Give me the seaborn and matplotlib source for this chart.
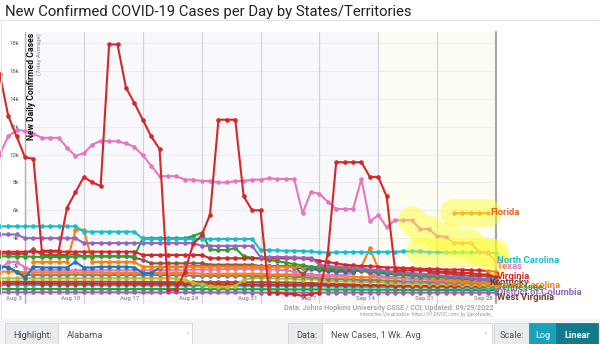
import numpy as np
import pandas as pd
import matplotlib
matplotlib.use("Agg")
import matplotlib.pyplot as plt
import seaborn as sns
from matplotlib.patches import Rectangle

nan = np.nan
# daily 7-day average new cases (thousands), Jul 31 .. Sep 28 2022 (60 days)
dates = pd.date_range("2022-07-31", periods=60, freq="D")

california = [15.8, 12.8, 11.3, 9.8, 9.7, 3.1, 3.1, 3.1, 6.2, 7.3,
              8.4, 8.0, 7.75, 17.9, 17.9, 14.8, 13.7, 12.5, 11.3, 10.4,
              0.3, 0.3, 1.6, 3.6, 4.2, 5.7, 12.5, 12.5, 12.5, 7.0,
              6.0, 6.0, 0.1, 0.1, 0.0, 0.0, -0.15, 0.0, 0.1, 2.9,
              9.45, 9.45, 9.45, 9.45, 8.4, 8.4, 7.0, 1.7, 1.7, 1.7,
              1.7, 1.65, 1.6, 1.6, 1.55, 1.5, 1.5, 1.4, 1.4, 1.3]
texas = [10.0, 11.3, 11.75, 11.7, 11.5, 11.2, 11.2, 11.2, 10.5, 9.9,
         10.1, 10.7, 11.0, 10.95, 10.95, 10.8, 10.55, 9.95, 9.2, 8.45,
         8.45, 8.45, 8.2, 8.2, 8.1, 8.1, 8.0, 8.0, 8.1, 8.1,
         8.2, 8.2, 8.3, 8.25, 8.25, 8.25, 5.8, 7.3, 7.2, 6.6,
         6.1, 6.1, 6.1, 8.25, 5.2, 5.65, 4.8, 5.3, 5.3, 5.3,
         4.65, 4.65, 4.15, 4.1, 3.65, 3.65, 3.65, 3.0, 3.0, 2.3]
north_carolina = [4.85, 4.85, 4.85, 4.85, 4.85, 4.85, 4.85, 4.85, 4.85, 4.85,
                  4.47, 4.47, 4.47, 4.47, 4.47, 4.47, 4.47, 3.95, 3.95, 3.95,
                  3.95, 3.95, 3.95, 3.95, 3.95, 3.95, 3.95, 3.95, 3.95, 3.95,
                  3.95, 3.15, 3.15, 3.12, 3.1, 3.1, 3.08, 3.05, 2.98, 2.98,
                  2.98, 3.0, 3.0, 3.0, 3.0, 3.02, 3.02, 3.02, 3.05, 3.05,
                  3.05, 3.0, 3.0, 2.98, 2.98, 2.98, 2.98, 2.98, 2.96, 2.95]
florida = [nan] * 54 + [5.83, 5.83, 5.83, 5.83, 5.83, nan]
georgia = [4.27, 4.27, 4.27, 4.0, 4.0, 4.0, 4.0, 4.0, 4.0, 4.0,
           3.65, 3.65, 3.65, 3.65, 3.65, 3.65, 3.65, 3.65, 3.65, 3.65,
           3.65, 3.65, 3.65, 3.65, 3.45, 3.45, 3.45, 3.45, 3.45, 3.45,
           3.45, 2.65, 2.65, 2.65, 2.65, 2.62, 2.6, 2.6, 2.1, 2.0,
           1.95, 1.9, 1.85, 1.8, 1.75, 1.7, 1.65, 1.6, 1.55, 1.5,
           1.45, 1.4, 1.35, 1.3, 1.25, 1.2, 1.15, 1.1, 1.05, 1.0]
virginia = [3.03, 3.03, 3.03, 3.03, 3.03, 3.03, 3.03, 3.03, 3.03, 3.03,
            3.03, 3.03, 3.03, 3.03, 3.03, 3.03, 3.03, 2.8, 2.8, 2.8,
            2.8, 2.8, 2.8, 2.8, 2.8, 2.56, 2.56, 2.56, 2.56, 2.56,
            2.56, 2.56, 2.56, 2.56, 2.56, 2.56, 2.56, 2.5, 2.4, 2.3,
            2.2, 2.1, 2.05, 2.0, 2.0, 1.95, 1.9, 1.9, 1.85, 1.85,
            1.8, 1.8, 1.8, 1.75, 1.75, 1.75, 1.7, 1.7, 1.65, 1.6]
alabama = [2.7, 2.7, 2.68, 2.68, 2.68, 2.65, 2.65, 2.65, 2.65, 2.68,
           2.68, 2.68, 2.7, 2.7, 2.7, 2.7, 2.7, 4.0, 4.0, 4.0,
           4.0, 4.0, 4.0, 4.15, 4.4, 3.2, 3.15, 3.15, 3.3, 2.7,
           2.6, 2.55, 2.45, 2.35, 2.25, 2.15, 2.05, 1.95, 1.9, 1.85,
           1.8, 1.8, 1.75, 1.7, 1.65, 1.6, 1.5, 1.45, 1.4, 1.35,
           1.3, 1.3, 1.25, 1.2, 1.2, 1.15, 1.1, 1.1, 1.05, 1.0]
south_carolina = [nan, nan, nan, nan, 2.3, 2.3, 2.3, 2.3, 2.3, 4.6,
                  4.6, 2.3, 2.3, 2.3, 2.3, 2.3, 2.3, 1.96, 1.96, 1.96,
                  1.96, 1.96, 1.96, 1.96, 1.96, 1.96, 1.96, 1.96, 1.96, 1.96,
                  1.96, 1.96, 1.96, 1.95, 1.95, 1.95, 1.95, 1.95, 1.95, 1.95,
                  1.95, 1.95, 1.95, 1.95, 3.3, 1.8, 1.6, 1.5, 1.4, 1.35,
                  1.3, 1.2, 1.1, 1.05, 1.0, 0.95, 0.9, 0.85, 0.8, 0.75]
kentucky = [2.9, 2.9, 2.85, 2.9, 3.2, 2.8, 2.8, 2.8, 2.8, 2.85,
            2.7, 2.75, 2.7, 2.7, 2.7, 2.7, 2.6, 2.45, 2.2, 2.2,
            2.2, 2.2, 2.2, 2.2, 2.2, 2.1, 2.1, 2.1, 2.1, 2.1,
            2.1, 2.0, 2.0, 2.0, 2.0, 2.0, 1.4, 1.95, 1.8, 1.75,
            1.7, 1.7, 1.65, 1.65, 1.6, 1.55, 1.5, 1.5, 1.45, 1.4,
            1.4, 1.45, 1.55, 1.5, 1.4, 1.35, 1.3, 1.3, 1.25, 1.2]
pennsylvania = [1.96, 1.9, 1.6, 1.15, 1.96, 1.9, 1.9, 1.9, 1.9, 2.3,
                1.9, 1.9, 1.95, 1.95, 1.95, 1.95, 1.9, 1.5, 1.5, 1.9,
                1.95, 1.95, 1.95, 2.0, 2.0, 2.0, 2.0, 2.0, 2.0, 2.0,
                2.0, 2.0, 2.0, 2.0, 1.95, 1.9, 1.85, 1.8, 1.7, 1.65,
                1.6, 1.6, 1.6, 1.96, 1.6, 1.5, 1.45, 1.4, 1.35, 1.3,
                1.25, 1.2, 1.2, 1.15, 1.1, 1.1, 1.05, 1.05, 1.0, 1.0]
arizona = [1.7, 2.3, 2.3, 1.9, 1.7, 1.7, 1.7, 1.7, 1.7, 1.7,
           1.7, 1.7, 1.7, 1.7, 1.7, 1.7, 1.7, 1.7, 1.7, 1.7,
           1.7, 1.7, 1.7, 1.75, 1.75, 1.75, 1.75, 1.8, 1.8, 1.8,
           1.8, 1.8, 1.75, 1.75, 1.7, 1.6, 1.5, 1.4, 1.36, 1.36,
           1.36, 1.36, 1.5, 1.86, 1.4, 1.3, 1.25, 1.2, 1.15, 1.1,
           1.1, 1.05, 1.0, 1.0, 0.95, 0.95, 0.9, 0.9, 0.9, 0.85]
ohio = [2.0, 1.95, 1.6, 1.36, 1.36, 1.36, 1.36, 1.36, 1.36, 1.4,
        1.36, 1.36, 1.36, 1.36, 1.36, 1.36, 1.36, 1.36, 1.36, 1.36,
        1.36, 1.35, 1.35, 1.3, 1.3, 1.3, 1.3, 1.3, 1.3, 1.3,
        1.3, 1.3, 1.3, 1.3, 1.3, 1.25, 1.2, 1.2, 1.15, 1.1,
        1.1, 1.05, 1.05, 1.0, 1.0, 1.0, 0.95, 0.95, 0.9, 0.9,
        0.9, 0.85, 0.85, 0.85, 0.8, 0.8, 0.8, 0.8, 0.75, 0.75]
michigan = [1.12, 1.12, 1.12, 1.12, 1.12, 1.12, 1.12, 1.12, 1.12, 1.12,
            1.12, 1.12, 1.12, 1.12, 1.12, 1.12, 1.12, 1.12, 1.12, 1.12,
            1.12, 1.1, 1.0, 0.8, 0.7, 0.55, 0.5, 0.5, 0.6, 1.0,
            1.15, 1.15, 1.15, 1.1, 1.1, 1.1, 1.0, 1.1, 1.0, 0.95,
            0.9, 0.9, 0.9, 0.85, 0.85, 0.85, 0.8, 0.8, 0.8, 0.75,
            0.75, 0.75, 0.7, 0.7, 0.7, 0.65, 0.65, 0.65, 0.6, 0.6]
indiana = [1.6, 1.6, 1.6, 1.55, 1.55, 1.55, 1.55, 1.55, 1.55, 1.55,
           1.55, 1.55, 1.55, 1.5, 1.5, 1.5, 1.5, 1.5, 1.5, 1.5,
           1.5, 1.5, 1.5, 1.5, 1.45, 1.45, 1.45, 1.45, 1.45, 1.45,
           1.45, 1.45, 1.4, 1.4, 1.4, 1.4, 1.35, 1.35, 1.3, 1.3,
           1.3, 1.25, 1.25, 1.2, 1.2, 1.2, 1.15, 1.15, 1.1, 1.1,
           1.05, 1.05, 1.0, 1.0, 0.95, 0.95, 0.9, 0.9, 0.85, 0.85]
minnesota = [0.65, 0.65, 0.65, 0.64, 0.64, 0.64, 0.64, 0.63, 0.63, 0.63,
             0.63, 0.63, 0.62, 0.62, 0.62, 0.62, 0.62, 0.61, 0.61, 0.61,
             0.6, 0.6, 0.6, 0.6, 0.6, 0.59, 0.59, 0.59, 0.58, 0.58,
             0.58, 0.57, 0.57, 0.57, 0.56, 0.56, 0.55, 0.55, 0.54, 0.54,
             0.53, 0.53, 0.52, 0.52, 0.51, 0.51, 0.5, 0.5, 0.5, 0.49,
             0.49, 0.48, 0.48, 0.47, 0.47, 0.46, 0.46, 0.45, 0.45, 0.45]
louisiana = [0.75, 0.75, 0.76, 0.76, 0.76, 0.75, 0.75, 0.75, 0.74, 0.74,
             0.74, 0.74, 0.73, 0.73, 0.73, 0.73, 0.72, 0.72, 0.72, 0.72,
             0.71, 0.71, 0.71, 0.7, 0.7, 0.7, 0.7, 0.69, 0.69, 0.69,
             0.68, 0.68, 0.68, 0.67, 0.67, 0.66, 0.66, 0.65, 0.65, 0.64,
             0.64, 0.63, 0.63, 0.62, 0.62, 0.61, 0.61, 0.6, 0.6, 0.59,
             0.59, 0.58, 0.58, 0.57, 0.57, 0.56, 0.56, 0.55, 0.55, 0.55]
west_virginia = [0.88, 0.88, 0.88, 0.88, 0.88, 0.88, 0.88, 0.88, 0.88, 0.88,
                 0.88, 0.88, 0.88, 0.88, 0.87, 0.87, 0.87, 0.87, 0.87, 0.87,
                 0.86, 0.86, 0.86, 0.86, 0.86, 0.85, 0.85, 0.85, 0.85, 0.85,
                 0.84, 0.84, 0.84, 0.83, 0.83, 0.82, 0.8, 0.78, 0.76, 0.74,
                 0.72, 0.7, 0.68, 0.66, 0.64, 0.62, 0.6, 0.58, 0.56, 0.55,
                 0.54, 0.53, 0.52, 0.51, 0.5, 0.49, 0.48, 0.47, 0.46, 0.45]
alaska = [0.36, 0.36, 0.36, 0.36, 0.36, 0.36, 0.36, 0.36, 0.36, 0.36,
          0.36, 0.36, 0.35, 0.35, 0.35, 0.35, 0.35, 0.35, 0.35, 0.35,
          0.35, 0.35, 0.35, 0.35, 0.35, 0.35, 0.35, 0.34, 0.34, 0.34,
          0.34, 0.34, 0.34, 0.34, 0.33, 0.33, 0.33, 0.33, 0.33, 0.32,
          0.32, 0.32, 0.32, 0.31, 0.31, 0.31, 0.31, 0.3, 0.3, 0.3,
          0.3, 0.3, 0.29, 0.29, 0.29, 0.29, 0.28, 0.28, 0.28, 0.28]
district_of_columbia = [0.12, 0.12, 0.12, 0.12, 0.12, 0.12, 0.12, 0.12, 0.12, 0.12,
                        0.12, 0.12, 0.12, 0.12, 0.12, 0.11, 0.11, 0.11, 0.11, 0.11,
                        0.11, 0.11, 0.11, 0.11, 0.11, 0.11, 0.11, 0.11, 0.11, 0.11,
                        0.1, 0.1, 0.1, 0.1, 0.1, 0.1, 0.1, 0.1, 0.1, 0.1,
                        0.1, 0.1, 0.1, 0.1, 0.1, 0.1, 0.1, 0.1, 0.1, 0.1,
                        0.1, 0.1, 0.1, 0.1, 0.1, 0.1, 0.1, 0.1, 0.1, 0.1]

series = {
    "West Virginia": west_virginia, "Alaska": alaska, "District of Columbia": district_of_columbia,
    "Minnesota": minnesota, "Louisiana": louisiana, "Michigan": michigan, "Ohio": ohio,
    "Indiana": indiana, "Arizona": arizona, "Pennsylvania": pennsylvania, "Kentucky": kentucky,
    "South Carolina": south_carolina, "Alabama": alabama, "Virginia": virginia, "Georgia": georgia,
    "North Carolina": north_carolina, "Texas": texas, "California": california, "Florida": florida,
}
palette = {
    "West Virginia": "#8c564b", "Alaska": "#2ca02c", "District of Columbia": "#9467bd",
    "Minnesota": "#17becf", "Louisiana": "#d62728", "Michigan": "#bcbd22", "Ohio": "#7f7f7f",
    "Indiana": "#ff7f0e", "Arizona": "#e377c2", "Pennsylvania": "#1f77b4", "Kentucky": "#8c564b",
    "South Carolina": "#ff7f0e", "Alabama": "#2ca02c", "Virginia": "#d62728", "Georgia": "#9467bd",
    "North Carolina": "#17becf", "Texas": "#e377c2", "California": "#d62728", "Florida": "#ff7f0e",
}

rows = []
for name, vals in series.items():
    for d, v in zip(dates, vals):
        rows.append((d, name, v))
df = pd.DataFrame(rows, columns=["date", "state", "cases_k"]).dropna()

sns.set_theme(style="white")
plt.rcParams["font.family"] = ["Roboto", "DejaVu Sans"]

fig = plt.figure(figsize=(6, 3.44), dpi=100)
fig.patch.set_facecolor("white")
W, H = 600.0, 344.0

def fx(px):
    return px / W

def fy(py):
    return 1 - py / H

# card border
fig.patches.append(Rectangle((fx(0.5), fy(319)), fx(599), (299) / H, transform=fig.transFigure,
                             fill=False, edgecolor="#e4e4e4", lw=0.8))

ax = fig.add_axes([fx(25), fy(303), fx(471), (303 - 32) / H])
ax.set_facecolor("#f9f9fd")

x0 = pd.Timestamp("2022-08-03")
x1 = pd.Timestamp("2022-09-28")
ax.set_xlim(x0, x1)
ax.set_ylim(-0.646, 18.79)

ax.axvspan(pd.Timestamp("2022-09-14"), x1, color="#fdfdf3", zorder=0)
for yv in range(2, 20, 2):
    ax.axhline(yv, color="#ebebf2", lw=0.8, zorder=0.5)
weeks = pd.date_range(x0, x1, freq="7D")
for w in weeks[1:-1]:
    ax.axvline(w, color="#d4d4d4", lw=0.9, zorder=0.6)
ax.axvline(x1, color="#a8a8a8", lw=1.6, zorder=0.6)
ax.axvline(x0, color="#b0b0b0", lw=1.0, zorder=0.6)

sns.lineplot(data=df, x="date", y="cases_k", hue="state", hue_order=list(series.keys()),
             palette=palette, marker="o", markersize=3.3, markeredgewidth=0,
             linewidth=1.5, legend=False, estimator=None, sort=False, ax=ax)
for ln in ax.lines:
    ln.set_clip_on(False)

# yellow highlight glow
glow = dict(color="#ffff22", alpha=0.45, lw=20, solid_capstyle="round", zorder=10, clip_on=False)
ax.plot(dates[49:], texas[49:], **glow)
ax.plot(dates[50:], north_carolina[50:], **glow)
ax.plot(dates[54:59], florida[54:59], **glow)

for s in ax.spines.values():
    s.set_visible(False)

ax.set_yticks(range(0, 20, 2))
ax.set_yticklabels(["0"] + [f"{v}k" for v in range(2, 20, 2)])
ax.tick_params(axis="y", direction="out", length=3, width=0.6, color="#888888",
               labelsize=4.3, labelcolor="#555555", pad=1.5)
ax.set_xticks([])
ax.set_xlabel("")
ax.set_ylabel("")

xlabels = ["Aug 3", "Aug 10", "Aug 17", "Aug 24", "Aug 31", "Sep 7", "Sep 14", "Sep 21", "Sep 28"]
for w, lab in zip(weeks, xlabels):
    ax.text(w - pd.Timedelta(hours=9), -0.33, lab, ha="right", va="center",
            fontsize=4.3, color="#9a9a9a", fontweight="bold", zorder=12)

# axis title
fig.text(fx(32), fy(33), "New Daily Confirmed Cases", rotation=90, ha="center", va="top",
         fontsize=6.2, fontweight="bold", color="#111111")
fig.text(fx(39.5), fy(33), "(7-day Average)", rotation=90, ha="center", va="top",
         fontsize=4.3, color="#888888")

# end labels
lab_x = x1 + pd.Timedelta(hours=2)
end_labels = [
    ("Florida", 5.81, "#e8601c", pd.Timedelta(hours=-17)),
    ("North Carolina", 2.37, "#17becf", pd.Timedelta(0)),
    ("Texas", 1.94, "#e377c2", pd.Timedelta(0)),
    ("Virginia", 1.29, "#d62728", pd.Timedelta(0)),
    ("Kentucky", 0.86, "#5d4037", pd.Timedelta(hours=-20)),
    ("South Carolina", 0.62, "#ff7f0e", pd.Timedelta(0)),
    ("Tennessee", 0.45, "#2ca02c", pd.Timedelta(0)),
    ("District of Columbia", 0.14, "#9467bd", pd.Timedelta(0)),
    ("West Virginia", -0.24, "#6d3f2e", pd.Timedelta(0)),
]
for txt, yv, col, off in end_labels:
    ax.text(lab_x + off, yv, txt, ha="left", va="center", fontsize=6.8, fontweight="bold",
            color=col, zorder=11, clip_on=False)

# title
fig.text(fx(5), fy(12), "New Confirmed COVID-19 Cases per Day by States/Territories",
         ha="left", va="center", fontsize=10.7, color="#222222")

# source
fig.text(fx(493), fy(307.5), "Data: Johns Hopkins University CSSE / CCI; Updated: 09/29/2022",
         ha="right", va="center", fontsize=5.1, fontweight="bold", color="#a8a8a8")
fig.text(fx(493), fy(314.5), "Interactive Visualization: https://91-DIVOC.com/ by @profwade_",
         ha="right", va="center", fontsize=3.3, color="#9a9a9a")

# control bar
def box(x, y, w, h, fc, ec="#ced4da"):
    fig.patches.append(Rectangle((fx(x), fy(y + h)), w / W, h / H, transform=fig.transFigure,
                                 facecolor=fc, edgecolor=ec, lw=0.6))

fig.patches.append(Rectangle((0, 0), 1, fy(319), transform=fig.transFigure,
                             facecolor="#f4f4f5", edgecolor="none"))
box(5, 323, 53, 26, "#e9ecef")
box(58, 323, 134, 26, "#ffffff")
box(288, 323, 34, 26, "#e9ecef")
box(322, 323, 170, 26, "#ffffff")
box(494, 323, 35, 26, "#e9ecef")
box(529, 323, 27, 26, "#17a2b8", "#17a2b8")
box(556, 323, 42, 26, "#117a8b", "#117a8b")
ty = fy(336)
fig.text(fx(13), ty, "Highlight:", ha="left", va="center", fontsize=6.6, color="#495057")
fig.text(fx(67), ty, "Alabama", ha="left", va="center", fontsize=6.6, color="#495057")
fig.text(fx(187), ty, "\u02c5", ha="center", va="center", fontsize=5, color="#999999",
         family="DejaVu Sans")
fig.text(fx(296), ty, "Data:", ha="left", va="center", fontsize=6.6, color="#495057")
fig.text(fx(331), ty, "New Cases, 1 Wk. Avg.", ha="left", va="center", fontsize=6.6, color="#495057")
fig.text(fx(485), ty, "\u02c5", ha="center", va="center", fontsize=5, color="#999999",
         family="DejaVu Sans")
fig.text(fx(500), ty, "Scale:", ha="left", va="center", fontsize=6.6, color="#495057")
fig.text(fx(542.5), ty, "Log", ha="center", va="center", fontsize=6.6, color="white")
fig.text(fx(577), ty, "Linear", ha="center", va="center", fontsize=6.6, color="white",
         fontweight="bold")

fig.savefig("out.png", dpi=100, facecolor="white")
